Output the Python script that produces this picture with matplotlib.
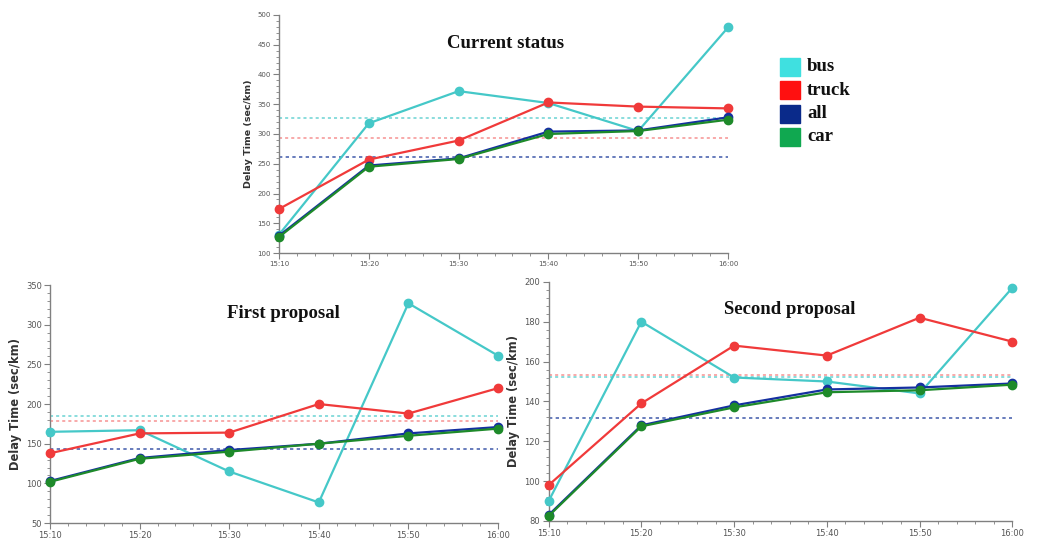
import matplotlib
matplotlib.use("Agg")
import matplotlib.pyplot as plt
from matplotlib.ticker import MultipleLocator
from matplotlib.patches import Rectangle
import numpy as np

times = ["15:10", "15:20", "15:30", "15:40", "15:50", "16:00"]
minutes = [0, 10, 20, 30, 40, 50]

# current status
cur_bus = [131, 318, 372, 352, 305, 479]
cur_truck = [174, 257, 289, 353, 346, 343]
cur_all = [129, 247, 259, 304, 306, 328]
cur_car = [127, 245, 258, 300, 305, 324]

# first proposal
p1_bus = [165, 167, 115, 76, 327, 261]
p1_truck = [138, 163, 164, 200, 188, 220]
p1_all = [103, 132, 142, 150, 163, 171]
p1_car = [102, 131, 140, 150, 160, 169]

# second proposal
p2_bus = [90, 180, 152, 150, 144, 197]
p2_truck = [98, 139, 168, 163, 182, 170]
p2_all = [83, 128, 138, 146, 147, 149]
p2_car = [82.5, 127.5, 137, 144.6, 145.6, 148.4]

legend_names = ["bus", "truck", "all", "car"]
legend_colors = ["#3fe0e0", "#ff1010", "#0a2a8a", "#10a850"]

c_bus = "#45c8c8"
c_truck = "#f03a3a"
c_all = "#1530a0"
c_car = "#1e8a2a"
c_all_mean = "#3a55a8"


def draw_panel(ax, bus, truck, allv, car, ylim, ystep, yminor, title, title_xy,
               tick_fs, label_fs):
    for vals, col in [(bus, c_bus), (truck, c_truck), (allv, c_all), (car, c_car)]:
        ax.plot(minutes, vals, color=col, lw=1.6, marker="o", ms=6, zorder=3,
                clip_on=False)
    # dotted lines = mean of each series
    ax.axhline(np.mean(bus), color=c_bus, ls=(0, (2, 2)), lw=1.1, alpha=0.8, zorder=1)
    ax.axhline(np.mean(truck), color=c_truck, ls=(0, (2, 2)), lw=1.1, alpha=0.55, zorder=1)
    ax.axhline(np.mean(allv), color=c_all_mean, ls=(0, (2, 2)), lw=1.2, alpha=0.9, zorder=1)
    ax.set_xlim(0, 50)
    ax.set_ylim(*ylim)
    ax.set_xticks(minutes)
    ax.set_xticklabels(times)
    ax.xaxis.set_minor_locator(MultipleLocator(2))
    ax.yaxis.set_major_locator(MultipleLocator(ystep))
    ax.yaxis.set_minor_locator(MultipleLocator(yminor))
    for s in ["top", "right"]:
        ax.spines[s].set_visible(False)
    for s in ["left", "bottom"]:
        ax.spines[s].set_color("#808080")
        ax.spines[s].set_linewidth(1.0)
    ax.tick_params(which="major", length=4, color="#808080", labelsize=tick_fs,
                   labelcolor="#555555", pad=2)
    ax.tick_params(which="minor", length=2, color="#808080")
    ax.set_ylabel("Delay Time (sec/km)", fontsize=label_fs, fontweight="bold",
                  color="#333333", labelpad=3)
    ax.text(title_xy[0], title_xy[1], title, transform=ax.transAxes,
            family="Liberation Serif", fontweight="bold", fontsize=13.5,
            ha="center", va="center", color="#111111")


fig = plt.figure(figsize=(10.49, 5.46), dpi=100)

ax_top = fig.add_axes([0.266, 0.5366, 0.428, 0.436])
draw_panel(ax_top, cur_bus, cur_truck, cur_all, cur_car, (100, 500), 50, 10,
           "Current status", (0.505, 0.88), 5, 6.8)

ax_p1 = fig.add_axes([0.0477, 0.042, 0.427, 0.436])
draw_panel(ax_p1, p1_bus, p1_truck, p1_all, p1_car, (50, 350), 50, 10,
           "First proposal", (0.52, 0.88), 6, 8.3)

ax_p2 = fig.add_axes([0.523, 0.0458, 0.442, 0.438])
draw_panel(ax_p2, p2_bus, p2_truck, p2_all, p2_car, (80, 200), 20, 4,
           "Second proposal", (0.52, 0.885), 6, 8.3)

# legend on the right of the top panel
for i, (name, col) in enumerate(zip(legend_names, legend_colors)):
    y0 = 1 - (58 + i * 23.3 + 18) / 546
    fig.patches.append(Rectangle((780 / 1049, y0), 20 / 1049, 18 / 546,
                                 transform=fig.transFigure, color=col))
    fig.text(807 / 1049, y0 + 9 / 546, name, family="Liberation Serif",
             fontweight="bold", fontsize=13.5, va="center", ha="left", color="#111111")

fig.savefig("out.png", dpi=100)
